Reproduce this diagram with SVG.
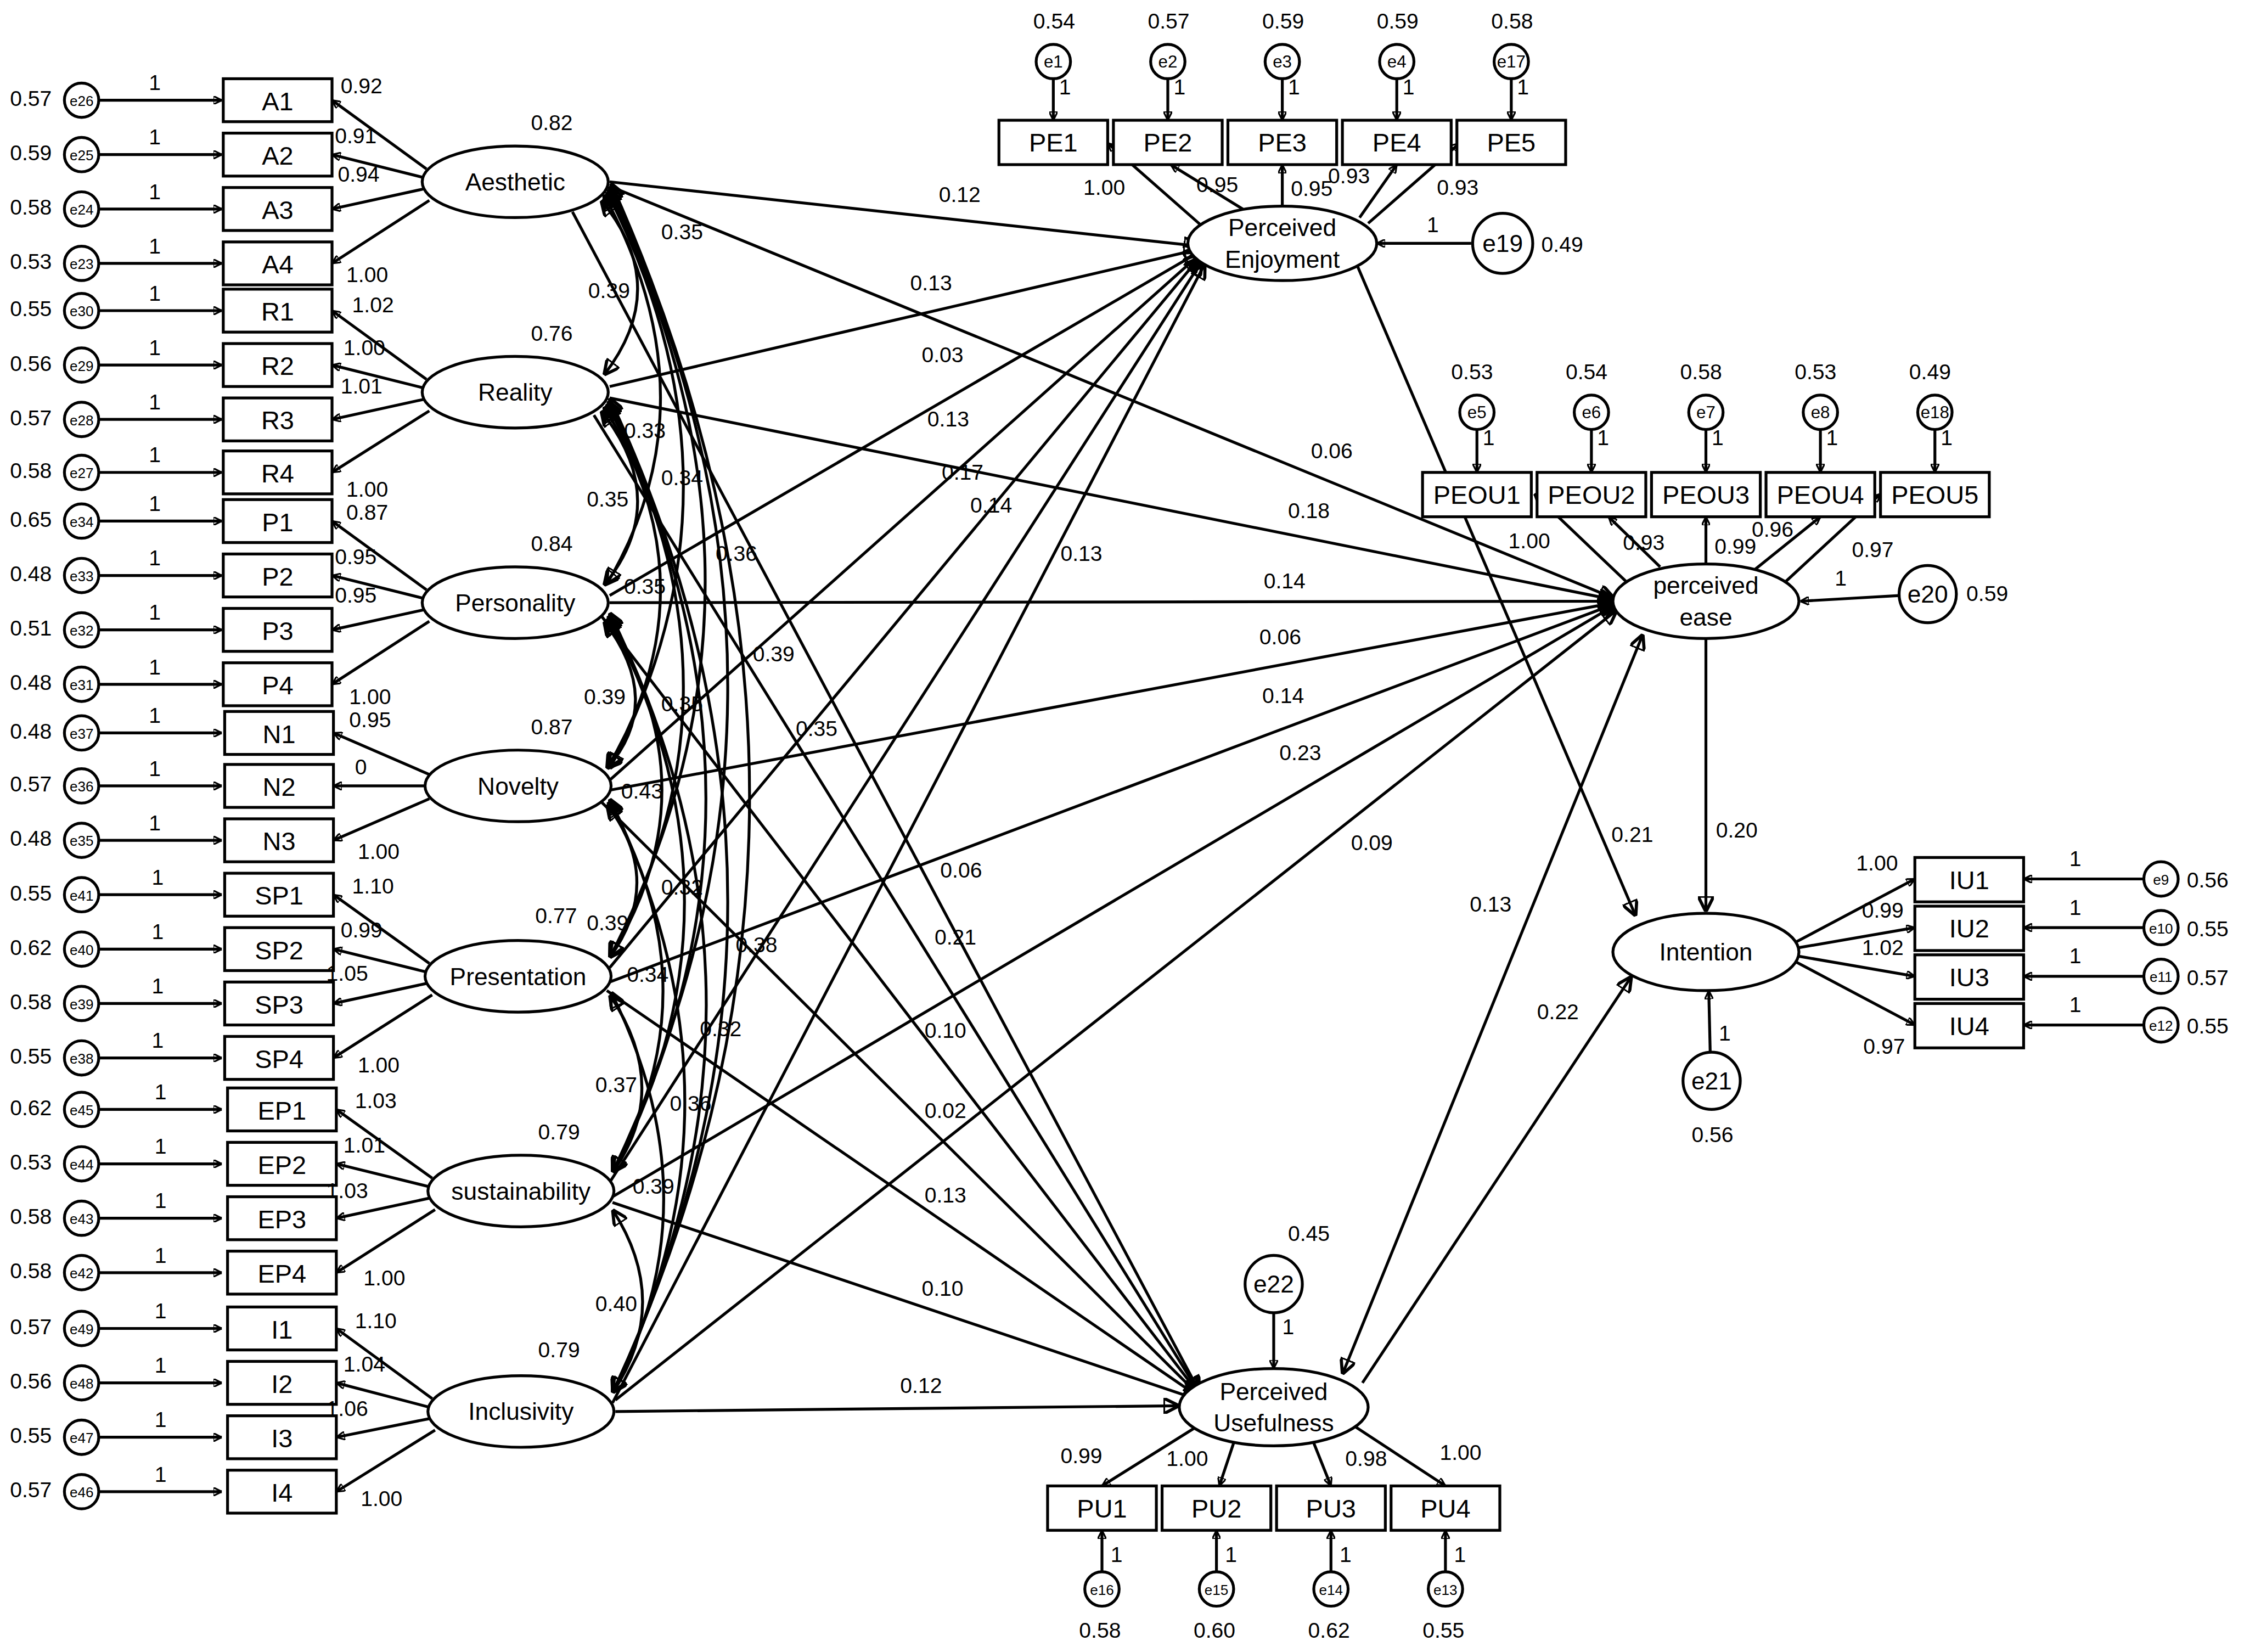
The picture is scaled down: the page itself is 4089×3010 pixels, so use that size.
<svg xmlns="http://www.w3.org/2000/svg" width="4089" height="3010" viewBox="0 0 4089 3010">
<defs>
<marker id="ah" viewBox="0 0 10 10" refX="10" refY="5" markerWidth="6" markerHeight="6" orient="auto-start-reverse" markerUnits="userSpaceOnUse"><path d="M0,0 L10,5 L0,10 z" fill="#000"/></marker>
<marker id="ab" viewBox="0 0 10 10" refX="10" refY="5" markerWidth="11" markerHeight="11" orient="auto-start-reverse" markerUnits="userSpaceOnUse"><path d="M0,0 L10,5 L0,10 z" fill="#000"/></marker>
<style>
text{font-family:"Liberation Sans",Arial,sans-serif;fill:#000}
.v{font-size:15px}.b{font-size:18px;text-anchor:middle}.s{font-size:10px;text-anchor:middle}.m{font-size:17px;text-anchor:middle}
rect,ellipse,circle{fill:#fff;stroke:#000;stroke-width:2}
line,path{stroke:#000;stroke-width:2;fill:none}
.a{marker-end:url(#ah)}.c{marker-end:url(#ab);marker-start:url(#ab)}.p{marker-end:url(#ab)}
</style>
</defs>
<rect x="0" y="0" width="4089" height="3010" style="fill:#fff;stroke:none"/>
<g transform="scale(2.6078,2.6083)">
<g id="connectors">
<!-- left error arrows and loadings -->
<g id="leftrows">
<line class="a" x1="69" y1="70" x2="155" y2="70"/><line class="a" x1="69" y1="108" x2="155" y2="108"/><line class="a" x1="69" y1="146" x2="155" y2="146"/><line class="a" x1="69" y1="184" x2="155" y2="184"/>
<line class="a" x1="69" y1="217" x2="155" y2="217"/><line class="a" x1="69" y1="255" x2="155" y2="255"/><line class="a" x1="69" y1="293" x2="155" y2="293"/><line class="a" x1="69" y1="330" x2="155" y2="330"/>
<line class="a" x1="69" y1="364" x2="155" y2="364"/><line class="a" x1="69" y1="402" x2="155" y2="402"/><line class="a" x1="69" y1="440" x2="155" y2="440"/><line class="a" x1="69" y1="478" x2="155" y2="478"/>
<line class="a" x1="69" y1="512" x2="155" y2="512"/><line class="a" x1="69" y1="549" x2="155" y2="549"/><line class="a" x1="69" y1="587" x2="155" y2="587"/>
<line class="a" x1="69" y1="625" x2="155" y2="625"/><line class="a" x1="69" y1="663" x2="155" y2="663"/><line class="a" x1="69" y1="701" x2="155" y2="701"/><line class="a" x1="69" y1="739" x2="155" y2="739"/>
<line class="a" x1="69" y1="775" x2="155" y2="775"/><line class="a" x1="69" y1="813" x2="155" y2="813"/><line class="a" x1="69" y1="851" x2="155" y2="851"/><line class="a" x1="69" y1="889" x2="155" y2="889"/>
<line class="a" x1="69" y1="928" x2="155" y2="928"/><line class="a" x1="69" y1="966" x2="155" y2="966"/><line class="a" x1="69" y1="1004" x2="155" y2="1004"/><line class="a" x1="69" y1="1042" x2="155" y2="1042"/>
<!-- loadings -->
<line class="a" x1="298" y1="118" x2="232" y2="70"/><line class="a" x1="296" y1="124" x2="232" y2="108"/><line class="a" x1="296" y1="132" x2="232" y2="146"/><line class="a" x1="300" y1="140" x2="232" y2="184"/>
<line class="a" x1="298" y1="265" x2="232" y2="217"/><line class="a" x1="296" y1="271" x2="232" y2="255"/><line class="a" x1="296" y1="279" x2="232" y2="293"/><line class="a" x1="300" y1="287" x2="232" y2="330"/>
<line class="a" x1="298" y1="412" x2="232" y2="364"/><line class="a" x1="296" y1="418" x2="232" y2="402"/><line class="a" x1="296" y1="426" x2="232" y2="440"/><line class="a" x1="300" y1="434" x2="232" y2="478"/>
<line class="a" x1="300" y1="541" x2="233" y2="512"/><line class="a" x1="297" y1="549" x2="233" y2="549"/><line class="a" x1="300" y1="558" x2="233" y2="587"/>
<line class="a" x1="300" y1="673" x2="233" y2="625"/><line class="a" x1="298" y1="679" x2="233" y2="663"/><line class="a" x1="298" y1="687" x2="233" y2="701"/><line class="a" x1="302" y1="695" x2="233" y2="739"/>
<line class="a" x1="302" y1="823" x2="235" y2="775"/><line class="a" x1="300" y1="829" x2="235" y2="813"/><line class="a" x1="300" y1="837" x2="235" y2="851"/><line class="a" x1="304" y1="845" x2="235" y2="889"/>
<line class="a" x1="302" y1="977" x2="235" y2="928"/><line class="a" x1="300" y1="983" x2="235" y2="966"/><line class="a" x1="300" y1="991" x2="235" y2="1004"/><line class="a" x1="304" y1="999" x2="235" y2="1042"/>
</g>
<g id="covariances">
<path class="c" d="M420,140 Q470,200 422,262"/>
<path class="c" d="M422,136 Q500,280 424,408"/>
<path class="c" d="M424,134 Q530,340 426,537"/>
<path class="c" d="M425,132 Q560,410 426,669"/>
<path class="c" d="M426,130 Q590,480 428,819"/>
<path class="c" d="M427,128 Q620,560 428,973"/>
<path class="c" d="M420,287 Q470,350 422,409"/>
<path class="c" d="M422,284 Q500,410 424,537"/>
<path class="c" d="M424,282 Q530,480 426,669"/>
<path class="c" d="M425,280 Q560,560 428,819"/>
<path class="c" d="M426,278 Q590,630 428,973"/>
<path class="c" d="M422,434 Q465,490 424,537"/>
<path class="c" d="M424,432 Q500,550 426,669"/>
<path class="c" d="M425,430 Q530,630 428,819"/>
<path class="c" d="M426,428 Q560,700 428,973"/>
<path class="c" d="M424,562 Q465,615 426,669"/>
<path class="c" d="M425,560 Q500,690 428,819"/>
<path class="c" d="M426,558 Q530,770 428,973"/>
<path class="c" d="M426,695 Q470,760 428,819"/>
<path class="c" d="M427,693 Q500,840 428,973"/>
<path class="c" d="M428,845 Q470,910 428,973"/>
</g>
<g id="structural">
<line class="p" x1="426" y1="127" x2="838" y2="172"/><line class="p" x1="426" y1="270" x2="838" y2="174"/><line class="p" x1="426" y1="416" x2="838" y2="176"/><line class="p" x1="426" y1="545" x2="838" y2="178"/><line class="p" x1="426" y1="676" x2="838" y2="180"/><line class="p" x1="426" y1="826" x2="840" y2="182"/><line class="p" x1="428" y1="980" x2="842" y2="184"/>
<line class="p" x1="426" y1="130" x2="1128" y2="418"/><line class="p" x1="426" y1="278" x2="1128" y2="419"/><line class="p" x1="426" y1="421" x2="1128" y2="420"/><line class="p" x1="426" y1="552" x2="1128" y2="421"/><line class="p" x1="426" y1="686" x2="1128" y2="422"/><line class="p" x1="428" y1="836" x2="1128" y2="423"/><line class="p" x1="430" y1="978" x2="1130" y2="426"/>
<line class="p" x1="400" y1="148" x2="838" y2="972"/><line class="p" x1="415" y1="290" x2="838" y2="973"/><line class="p" x1="420" y1="430" x2="838" y2="974"/><line class="p" x1="420" y1="560" x2="838" y2="975"/><line class="p" x1="424" y1="692" x2="838" y2="976"/><line class="p" x1="428" y1="840" x2="838" y2="978"/><line class="p" x1="430" y1="986" x2="824" y2="982"/>
<line class="p" x1="946" y1="180" x2="1143" y2="640"/>
<line class="p" x1="1192" y1="446" x2="1192" y2="637"/>
<line class="p" x1="952" y1="966" x2="1140" y2="682"/>
<line class="c" x1="1148" y1="443" x2="938" y2="960"/>
</g>
<g id="indicators">
<line class="a" x1="840" y1="158" x2="774" y2="100"/><line class="a" x1="870" y1="147" x2="818" y2="115"/><line class="a" x1="896" y1="144" x2="896" y2="115"/><line class="a" x1="950" y1="152" x2="976" y2="115"/><line class="a" x1="956" y1="156" x2="1020" y2="100"/>
<line class="a" x1="736" y1="55" x2="736" y2="84"/><line class="a" x1="816" y1="55" x2="816" y2="84"/><line class="a" x1="896" y1="55" x2="896" y2="84"/><line class="a" x1="976" y1="55" x2="976" y2="84"/><line class="a" x1="1056" y1="55" x2="1056" y2="84"/>
<line class="a" x1="1028" y1="170" x2="962" y2="170"/>
<line class="a" x1="1136" y1="406" x2="1072" y2="345"/><line class="a" x1="1160" y1="396" x2="1124" y2="361"/><line class="a" x1="1192" y1="394" x2="1192" y2="361"/><line class="a" x1="1226" y1="398" x2="1272" y2="361"/><line class="a" x1="1248" y1="406" x2="1314" y2="345"/>
<line class="a" x1="1032" y1="300" x2="1032" y2="330"/><line class="a" x1="1112" y1="300" x2="1112" y2="330"/><line class="a" x1="1192" y1="300" x2="1192" y2="330"/><line class="a" x1="1272" y1="300" x2="1272" y2="330"/><line class="a" x1="1352" y1="300" x2="1352" y2="330"/>
<line class="a" x1="1327" y1="416" x2="1258" y2="420"/>
<line class="a" x1="1255" y1="658" x2="1338" y2="614"/><line class="a" x1="1257" y1="662" x2="1338" y2="648"/><line class="a" x1="1257" y1="668" x2="1338" y2="682"/><line class="a" x1="1255" y1="672" x2="1338" y2="716"/>
<line class="a" x1="1498" y1="614" x2="1414" y2="614"/><line class="a" x1="1498" y1="648" x2="1414" y2="648"/><line class="a" x1="1498" y1="682" x2="1414" y2="682"/><line class="a" x1="1498" y1="716" x2="1414" y2="716"/>
<line class="a" x1="1195" y1="735" x2="1194" y2="692"/>
<line class="a" x1="890" y1="917" x2="890" y2="956"/>
<line class="a" x1="834" y1="998" x2="770" y2="1038"/><line class="a" x1="862" y1="1008" x2="852" y2="1038"/><line class="a" x1="918" y1="1008" x2="930" y2="1038"/><line class="a" x1="946" y1="996" x2="1010" y2="1038"/>
<line class="a" x1="770" y1="1098" x2="770" y2="1069"/><line class="a" x1="850" y1="1098" x2="850" y2="1069"/><line class="a" x1="930" y1="1098" x2="930" y2="1069"/><line class="a" x1="1010" y1="1098" x2="1010" y2="1069"/>
</g>
</g>
<g id="left-nodes">
<rect x="156" y="55" width="76" height="30"/><text class="b" x="194" y="77">A1</text>
<rect x="156" y="93" width="76" height="30"/><text class="b" x="194" y="115">A2</text>
<rect x="156" y="131" width="76" height="30"/><text class="b" x="194" y="153">A3</text>
<rect x="156" y="169" width="76" height="30"/><text class="b" x="194" y="191">A4</text>
<rect x="156" y="202" width="76" height="30"/><text class="b" x="194" y="224">R1</text>
<rect x="156" y="240" width="76" height="30"/><text class="b" x="194" y="262">R2</text>
<rect x="156" y="278" width="76" height="30"/><text class="b" x="194" y="300">R3</text>
<rect x="156" y="315" width="76" height="30"/><text class="b" x="194" y="337">R4</text>
<rect x="156" y="349" width="76" height="30"/><text class="b" x="194" y="371">P1</text>
<rect x="156" y="387" width="76" height="30"/><text class="b" x="194" y="409">P2</text>
<rect x="156" y="425" width="76" height="30"/><text class="b" x="194" y="447">P3</text>
<rect x="156" y="463" width="76" height="30"/><text class="b" x="194" y="485">P4</text>
<rect x="157" y="497" width="76" height="30"/><text class="b" x="195" y="519">N1</text>
<rect x="157" y="534" width="76" height="30"/><text class="b" x="195" y="556">N2</text>
<rect x="157" y="572" width="76" height="30"/><text class="b" x="195" y="594">N3</text>
<rect x="157" y="610" width="76" height="30"/><text class="b" x="195" y="632">SP1</text>
<rect x="157" y="648" width="76" height="30"/><text class="b" x="195" y="670">SP2</text>
<rect x="157" y="686" width="76" height="30"/><text class="b" x="195" y="708">SP3</text>
<rect x="157" y="724" width="76" height="30"/><text class="b" x="195" y="746">SP4</text>
<rect x="159" y="760" width="76" height="30"/><text class="b" x="197" y="782">EP1</text>
<rect x="159" y="798" width="76" height="30"/><text class="b" x="197" y="820">EP2</text>
<rect x="159" y="836" width="76" height="30"/><text class="b" x="197" y="858">EP3</text>
<rect x="159" y="874" width="76" height="30"/><text class="b" x="197" y="896">EP4</text>
<rect x="159" y="913" width="76" height="30"/><text class="b" x="197" y="935">I1</text>
<rect x="159" y="951" width="76" height="30"/><text class="b" x="197" y="973">I2</text>
<rect x="159" y="989" width="76" height="30"/><text class="b" x="197" y="1011">I3</text>
<rect x="159" y="1027" width="76" height="30"/><text class="b" x="197" y="1049">I4</text>
</g>
<g id="left-errors">
<circle cx="57" cy="70" r="12"/><text class="s" x="57" y="74">e26</text><circle cx="57" cy="108" r="12"/><text class="s" x="57" y="112">e25</text><circle cx="57" cy="146" r="12"/><text class="s" x="57" y="150">e24</text><circle cx="57" cy="184" r="12"/><text class="s" x="57" y="188">e23</text>
<circle cx="57" cy="217" r="12"/><text class="s" x="57" y="221">e30</text><circle cx="57" cy="255" r="12"/><text class="s" x="57" y="259">e29</text><circle cx="57" cy="293" r="12"/><text class="s" x="57" y="297">e28</text><circle cx="57" cy="330" r="12"/><text class="s" x="57" y="334">e27</text>
<circle cx="57" cy="364" r="12"/><text class="s" x="57" y="368">e34</text><circle cx="57" cy="402" r="12"/><text class="s" x="57" y="406">e33</text><circle cx="57" cy="440" r="12"/><text class="s" x="57" y="444">e32</text><circle cx="57" cy="478" r="12"/><text class="s" x="57" y="482">e31</text>
<circle cx="57" cy="512" r="12"/><text class="s" x="57" y="516">e37</text><circle cx="57" cy="549" r="12"/><text class="s" x="57" y="553">e36</text><circle cx="57" cy="587" r="12"/><text class="s" x="57" y="591">e35</text>
<circle cx="57" cy="625" r="12"/><text class="s" x="57" y="629">e41</text><circle cx="57" cy="663" r="12"/><text class="s" x="57" y="667">e40</text><circle cx="57" cy="701" r="12"/><text class="s" x="57" y="705">e39</text><circle cx="57" cy="739" r="12"/><text class="s" x="57" y="743">e38</text>
<circle cx="57" cy="775" r="12"/><text class="s" x="57" y="779">e45</text><circle cx="57" cy="813" r="12"/><text class="s" x="57" y="817">e44</text><circle cx="57" cy="851" r="12"/><text class="s" x="57" y="855">e43</text><circle cx="57" cy="889" r="12"/><text class="s" x="57" y="893">e42</text>
<circle cx="57" cy="928" r="12"/><text class="s" x="57" y="932">e49</text><circle cx="57" cy="966" r="12"/><text class="s" x="57" y="970">e48</text><circle cx="57" cy="1004" r="12"/><text class="s" x="57" y="1008">e47</text><circle cx="57" cy="1042" r="12"/><text class="s" x="57" y="1046">e46</text>
</g>
<g id="left-labels" class="v">
<text x="7" y="74">0.57</text><text x="7" y="112">0.59</text><text x="7" y="150">0.58</text><text x="7" y="188">0.53</text><text x="7" y="221">0.55</text><text x="7" y="259">0.56</text><text x="7" y="297">0.57</text><text x="7" y="334">0.58</text><text x="7" y="368">0.65</text><text x="7" y="406">0.48</text><text x="7" y="444">0.51</text><text x="7" y="482">0.48</text><text x="7" y="516">0.48</text><text x="7" y="553">0.57</text><text x="7" y="591">0.48</text><text x="7" y="629">0.55</text><text x="7" y="667">0.62</text><text x="7" y="705">0.58</text><text x="7" y="743">0.55</text><text x="7" y="779">0.62</text><text x="7" y="817">0.53</text><text x="7" y="855">0.58</text><text x="7" y="893">0.58</text><text x="7" y="932">0.57</text><text x="7" y="970">0.56</text><text x="7" y="1008">0.55</text><text x="7" y="1046">0.57</text>
<text x="104" y="63">1</text><text x="104" y="101">1</text><text x="104" y="139">1</text><text x="104" y="177">1</text><text x="104" y="210">1</text><text x="104" y="248">1</text><text x="104" y="286">1</text><text x="104" y="323">1</text><text x="104" y="357">1</text><text x="104" y="395">1</text><text x="104" y="433">1</text><text x="104" y="471">1</text><text x="104" y="505">1</text><text x="104" y="542">1</text><text x="104" y="580">1</text><text x="106" y="618">1</text><text x="106" y="656">1</text><text x="106" y="694">1</text><text x="106" y="732">1</text><text x="108" y="768">1</text><text x="108" y="806">1</text><text x="108" y="844">1</text><text x="108" y="882">1</text><text x="108" y="921">1</text><text x="108" y="959">1</text><text x="108" y="997">1</text><text x="108" y="1035">1</text>
<text x="238" y="65">0.92</text><text x="234" y="100">0.91</text><text x="236" y="127">0.94</text><text x="242" y="197">1.00</text>
<text x="246" y="218">1.02</text><text x="240" y="248">1.00</text><text x="238" y="275">1.01</text><text x="242" y="347">1.00</text>
<text x="242" y="363">0.87</text><text x="234" y="394">0.95</text><text x="234" y="421">0.95</text><text x="244" y="492">1.00</text>
<text x="244" y="508">0.95</text><text x="248" y="541">0</text><text x="250" y="600">1.00</text>
<text x="246" y="624">1.10</text><text x="238" y="655">0.99</text><text x="228" y="685">1.05</text><text x="250" y="749">1.00</text>
<text x="248" y="774">1.03</text><text x="240" y="805">1.01</text><text x="228" y="837">1.03</text><text x="254" y="898">1.00</text>
<text x="248" y="928">1.10</text><text x="240" y="958">1.04</text><text x="228" y="989">1.06</text><text x="252" y="1052">1.00</text>
<text x="371" y="91">0.82</text><text x="371" y="238">0.76</text><text x="371" y="385">0.84</text><text x="371" y="513">0.87</text><text x="374" y="645">0.77</text><text x="376" y="796">0.79</text><text x="376" y="948">0.79</text>
</g>
<g id="latents">
<g id="n-aesthetic"><ellipse cx="360" cy="127" rx="65" ry="25"/><text class="m" x="360" y="133">Aesthetic</text></g>
<g id="n-reality"><ellipse cx="360" cy="274" rx="65" ry="25"/><text class="m" x="360" y="280">Reality</text></g>
<g id="n-personality"><ellipse cx="360" cy="421" rx="65" ry="25"/><text class="m" x="360" y="427">Personality</text></g>
<g id="n-novelty"><ellipse cx="362" cy="549" rx="65" ry="25"/><text class="m" x="362" y="555">Novelty</text></g>
<g id="n-presentation"><ellipse cx="362" cy="682" rx="65" ry="25"/><text class="m" x="362" y="688">Presentation</text></g>
<g id="n-sustainability"><ellipse cx="364" cy="832" rx="65" ry="25"/><text class="m" x="364" y="838">sustainability</text></g>
<g id="n-inclusivity"><ellipse cx="364" cy="986" rx="65" ry="25"/><text class="m" x="364" y="992">Inclusivity</text></g>
</g>
<g id="cov-labels" class="v">
<text x="462" y="167">0.35</text><text x="411" y="208">0.39</text><text x="436" y="306">0.33</text><text x="462" y="339">0.34</text><text x="410" y="354">0.35</text><text x="500" y="392">0.36</text><text x="436" y="415">0.35</text><text x="526" y="462">0.39</text><text x="408" y="492">0.39</text><text x="462" y="497">0.35</text><text x="556" y="514">0.35</text><text x="434" y="558">0.43</text><text x="462" y="625">0.32</text><text x="410" y="650">0.39</text><text x="514" y="665">0.38</text><text x="438" y="686">0.34</text><text x="489" y="724">0.32</text><text x="416" y="763">0.37</text><text x="468" y="776">0.36</text><text x="442" y="834">0.39</text><text x="416" y="916">0.40</text>
</g>
<g id="path-labels" class="v">
<text x="656" y="141">0.12</text><text x="636" y="203">0.13</text><text x="644" y="253">0.03</text><text x="648" y="298">0.13</text><text x="658" y="335">0.17</text><text x="678" y="358">0.14</text><text x="741" y="392">0.13</text>
<text x="916" y="320">0.06</text><text x="900" y="362">0.18</text><text x="883" y="411">0.14</text><text x="880" y="450">0.06</text><text x="882" y="491">0.14</text><text x="894" y="531">0.23</text><text x="944" y="594">0.09</text>
<text x="657" y="613">0.06</text><text x="653" y="660">0.21</text><text x="646" y="725">0.10</text><text x="646" y="781">0.02</text><text x="646" y="840">0.13</text><text x="644" y="905">0.10</text><text x="629" y="973">0.12</text>
<text x="1126" y="588">0.21</text><text x="1199" y="585">0.20</text><text x="1027" y="637">0.13</text><text x="1074" y="712">0.22</text>
</g>
<g id="n-pe">
<rect x="698" y="84" width="76" height="31"/><text class="b" x="736" y="106">PE1</text>
<rect x="778" y="84" width="76" height="31"/><text class="b" x="816" y="106">PE2</text>
<rect x="858" y="84" width="76" height="31"/><text class="b" x="896" y="106">PE3</text>
<rect x="938" y="84" width="76" height="31"/><text class="b" x="976" y="106">PE4</text>
<rect x="1018" y="84" width="76" height="31"/><text class="b" x="1056" y="106">PE5</text>
<circle cx="736" cy="43" r="12"/><text class="s" x="736" y="47" style="font-size:12px">e1</text>
<circle cx="816" cy="43" r="12"/><text class="s" x="816" y="47" style="font-size:12px">e2</text>
<circle cx="896" cy="43" r="12"/><text class="s" x="896" y="47" style="font-size:12px">e3</text>
<circle cx="976" cy="43" r="12"/><text class="s" x="976" y="47" style="font-size:12px">e4</text>
<circle cx="1056" cy="43" r="12"/><text class="s" x="1056" y="47" style="font-size:12px">e17</text>
<ellipse cx="896" cy="170" rx="66" ry="26"/><text class="m" x="896" y="165">Perceived</text><text class="m" x="896" y="187">Enjoyment</text>
<circle cx="1050" cy="170" r="21"/><text class="m" x="1050" y="176">e19</text>
<g class="v"><text x="722" y="20">0.54</text><text x="802" y="20">0.57</text><text x="882" y="20">0.59</text><text x="962" y="20">0.59</text><text x="1042" y="20">0.58</text>
<text x="740" y="66">1</text><text x="820" y="66">1</text><text x="900" y="66">1</text><text x="980" y="66">1</text><text x="1060" y="66">1</text>
<text x="757" y="136">1.00</text><text x="836" y="134">0.95</text><text x="902" y="137">0.95</text><text x="928" y="128">0.93</text><text x="1004" y="136">0.93</text>
<text x="997" y="162">1</text><text x="1077" y="176">0.49</text></g>
</g>
<g id="n-peou">
<rect x="994" y="330" width="76" height="31"/><text class="b" x="1032" y="352">PEOU1</text>
<rect x="1074" y="330" width="76" height="31"/><text class="b" x="1112" y="352">PEOU2</text>
<rect x="1154" y="330" width="76" height="31"/><text class="b" x="1192" y="352">PEOU3</text>
<rect x="1234" y="330" width="76" height="31"/><text class="b" x="1272" y="352">PEOU4</text>
<rect x="1314" y="330" width="76" height="31"/><text class="b" x="1352" y="352">PEOU5</text>
<circle cx="1032" cy="288" r="12"/><text class="s" x="1032" y="292" style="font-size:12px">e5</text>
<circle cx="1112" cy="288" r="12"/><text class="s" x="1112" y="292" style="font-size:12px">e6</text>
<circle cx="1192" cy="288" r="12"/><text class="s" x="1192" y="292" style="font-size:12px">e7</text>
<circle cx="1272" cy="288" r="12"/><text class="s" x="1272" y="292" style="font-size:12px">e8</text>
<circle cx="1352" cy="288" r="12"/><text class="s" x="1352" y="292" style="font-size:12px">e18</text>
<ellipse cx="1192" cy="420" rx="65" ry="26"/><text class="m" x="1192" y="415">perceived</text><text class="m" x="1192" y="437">ease</text>
<circle cx="1347" cy="415" r="20"/><text class="m" x="1347" y="421">e20</text>
<g class="v"><text x="1014" y="265">0.53</text><text x="1094" y="265">0.54</text><text x="1174" y="265">0.58</text><text x="1254" y="265">0.53</text><text x="1334" y="265">0.49</text>
<text x="1036" y="311">1</text><text x="1116" y="311">1</text><text x="1196" y="311">1</text><text x="1276" y="311">1</text><text x="1356" y="311">1</text>
<text x="1054" y="383">1.00</text><text x="1134" y="384">0.93</text><text x="1198" y="387">0.99</text><text x="1224" y="375">0.96</text><text x="1294" y="389">0.97</text>
<text x="1282" y="409">1</text><text x="1374" y="420">0.59</text></g>
</g>
<g id="n-intention">
<ellipse cx="1192" cy="665" rx="65" ry="27"/><text class="m" x="1192" y="671">Intention</text>
<circle cx="1196" cy="755" r="20"/><text class="m" x="1196" y="761">e21</text>
<rect x="1338" y="599" width="76" height="31"/><text class="b" x="1376" y="621">IU1</text>
<rect x="1338" y="633" width="76" height="31"/><text class="b" x="1376" y="655">IU2</text>
<rect x="1338" y="667" width="76" height="31"/><text class="b" x="1376" y="689">IU3</text>
<rect x="1338" y="701" width="76" height="31"/><text class="b" x="1376" y="723">IU4</text>
<circle cx="1510" cy="614" r="12"/><text class="s" x="1510" y="618">e9</text>
<circle cx="1510" cy="648" r="12"/><text class="s" x="1510" y="652">e10</text>
<circle cx="1510" cy="682" r="12"/><text class="s" x="1510" y="686">e11</text>
<circle cx="1510" cy="716" r="12"/><text class="s" x="1510" y="720">e12</text>
<g class="v"><text x="1528" y="620">0.56</text><text x="1528" y="654">0.55</text><text x="1528" y="688">0.57</text><text x="1528" y="722">0.55</text>
<text x="1446" y="605">1</text><text x="1446" y="639">1</text><text x="1446" y="673">1</text><text x="1446" y="707">1</text>
<text x="1297" y="608">1.00</text><text x="1301" y="641">0.99</text><text x="1301" y="667">1.02</text><text x="1302" y="736">0.97</text>
<text x="1201" y="727">1</text><text x="1182" y="798">0.56</text></g>
</g>
<g id="n-pu">
<ellipse cx="890" cy="983" rx="66" ry="27"/><text class="m" x="890" y="978">Perceived</text><text class="m" x="890" y="1000">Usefulness</text>
<circle cx="890" cy="897" r="20"/><text class="m" x="890" y="903">e22</text>
<rect x="732" y="1038" width="76" height="31"/><text class="b" x="770" y="1060">PU1</text>
<rect x="812" y="1038" width="76" height="31"/><text class="b" x="850" y="1060">PU2</text>
<rect x="892" y="1038" width="76" height="31"/><text class="b" x="930" y="1060">PU3</text>
<rect x="972" y="1038" width="76" height="31"/><text class="b" x="1010" y="1060">PU4</text>
<circle cx="770" cy="1110" r="12"/><text class="s" x="770" y="1114">e16</text>
<circle cx="850" cy="1110" r="12"/><text class="s" x="850" y="1114">e15</text>
<circle cx="930" cy="1110" r="12"/><text class="s" x="930" y="1114">e14</text>
<circle cx="1010" cy="1110" r="12"/><text class="s" x="1010" y="1114">e13</text>
<g class="v"><text x="900" y="867">0.45</text><text x="896" y="932">1</text>
<text x="741" y="1022">0.99</text><text x="815" y="1024">1.00</text><text x="940" y="1024">0.98</text><text x="1006" y="1020">1.00</text>
<text x="776" y="1091">1</text><text x="856" y="1091">1</text><text x="936" y="1091">1</text><text x="1016" y="1091">1</text>
<text x="754" y="1144">0.58</text><text x="834" y="1144">0.60</text><text x="914" y="1144">0.62</text><text x="994" y="1144">0.55</text></g>
</g>
</g>
</svg>
